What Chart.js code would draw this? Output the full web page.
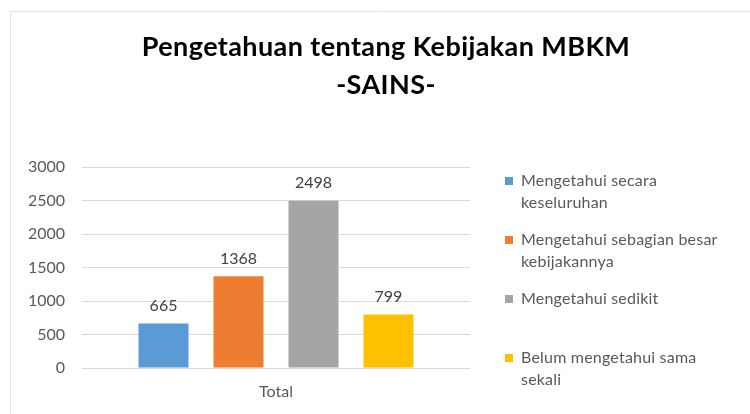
<!DOCTYPE html>
<html>
<head>
<meta charset="utf-8">
<script src="https://cdn.jsdelivr.net/npm/chart.js@4"></script>
<style>
html,body{margin:0;padding:0;background:#fff;}
#wrap{position:absolute;left:0;top:0;width:750px;height:414px;}
</style>
</head>
<body>
<div id="wrap"><canvas id="c" width="750" height="414"></canvas></div>
<script>
const categories = ['Total'];
const seriesNames = [
  'Mengetahui secara keseluruhan',
  'Mengetahui sebagian besar kebijakannya',
  'Mengetahui sedikit',
  'Belum mengetahui sama sekali'
];
const legendLines = [
  ['Mengetahui secara', 'keseluruhan'],
  ['Mengetahui sebagian besar', 'kebijakannya'],
  ['Mengetahui sedikit'],
  ['Belum mengetahui sama', 'sekali']
];
const values = [665, 1368, 2498, 799];
const colors = ['#5B9BD5', '#ED7D31', '#A5A5A5', '#FFC000'];
const yTicks = [0, 500, 1000, 1500, 2000, 2500, 3000];
const titleLines = ['Pengetahuan tentang Kebijakan MBKM', '-SAINS-'];

const FONT = 'Lato, "Open Sans", sans-serif';

const decor = {
  id: 'decor',
  beforeDraw(chart) {
    const ctx = chart.ctx;
    ctx.save();
    ctx.strokeStyle = '#e3e3e3';
    ctx.lineWidth = 1;
    ctx.beginPath();
    ctx.moveTo(10.5, 414);
    ctx.lineTo(10.5, 11.5);
    ctx.lineTo(750, 11.5);
    ctx.stroke();
    ctx.restore();
  },
  afterDraw(chart) {
    const ctx = chart.ctx;
    ctx.save();
    // title
    ctx.fillStyle = '#000000';
    ctx.textAlign = 'center';
    ctx.textBaseline = 'alphabetic';
    ctx.font = 'bold 27px ' + FONT;
    ctx.letterSpacing = '0.4px';
    ctx.fillText(titleLines[0], 386, 56);
    ctx.fillText(titleLines[1], 386, 94);
    ctx.letterSpacing = '0px';
    // data labels
    ctx.fillStyle = '#404040';
    ctx.font = '16px ' + FONT;
    ctx.textBaseline = 'middle';
    chart.data.datasets.forEach((ds, i) => {
      const meta = chart.getDatasetMeta(i);
      meta.data.forEach((bar, j) => {
        ctx.fillText(String(ds.data[j]), bar.x, bar.y - 18);
      });
    });
    // legend
    ctx.textAlign = 'left';
    ctx.font = '16px ' + FONT;
    ctx.letterSpacing = '0.2px';
    const x0 = 505, yStart = 181, step = 59, lh = 22;
    legendLines.forEach((lines, i) => {
      const y = yStart + i * step;
      ctx.fillStyle = chart.data.datasets[i].backgroundColor;
      ctx.fillRect(x0, y - 4, 8, 8);
      ctx.fillStyle = '#595959';
      lines.forEach((t, k) => ctx.fillText(t, x0 + 16, y + k * lh));
    });
    ctx.restore();
  }
};

new Chart(document.getElementById('c'), {
  type: 'bar',
  data: {
    labels: categories,
    datasets: seriesNames.map((n, i) => ({
      label: n,
      data: [values[i]],
      backgroundColor: colors[i],
      barPercentage: 0.667,
      categoryPercentage: 0.773
    }))
  },
  options: {
    responsive: false,
    animation: false,
    devicePixelRatio: 1,
    layout: { padding: { top: 167, right: 280, left: 0, bottom: 0 } },
    plugins: { legend: { display: false }, title: { display: false }, tooltip: { enabled: false } },
    scales: {
      x: {
        grid: { display: false, drawTicks: false },
        border: { display: false },
        ticks: { color: '#595959', font: { family: FONT, size: 16 }, padding: 14 },
        afterFit(s) { s.height = 46; }
      },
      y: {
        min: 0, max: 3000,
        afterBuildTicks(s) { s.ticks = yTicks.map(v => ({ value: v })); },
        grid: { color: '#d9d9d9', drawTicks: false },
        border: { display: false },
        ticks: { color: '#595959', font: { family: FONT, size: 16 }, padding: 17, callback: v => String(v) },
        afterFit(s) { s.width = 82; }
      }
    }
  },
  plugins: [decor]
});
</script>
</body>
</html>
